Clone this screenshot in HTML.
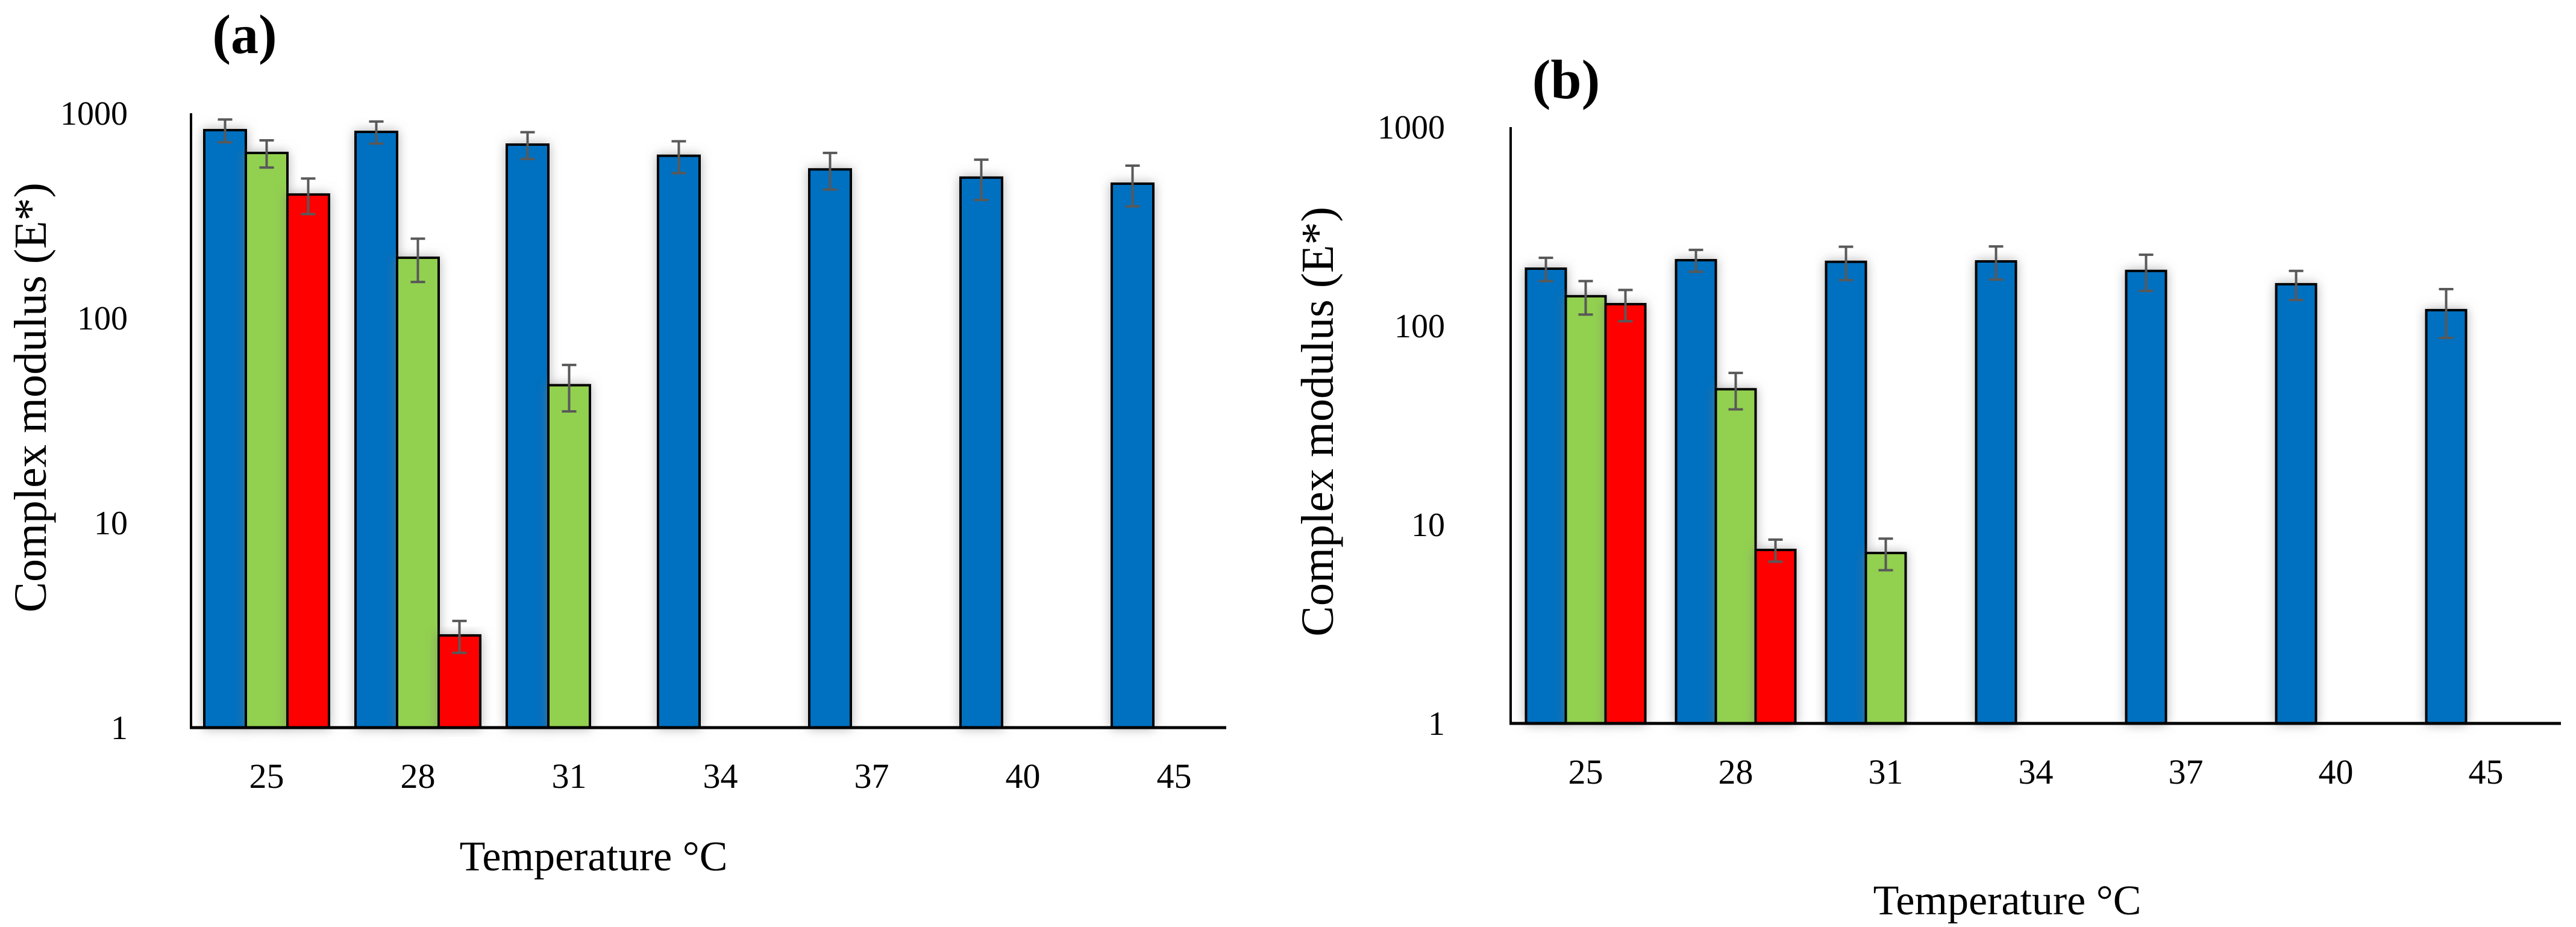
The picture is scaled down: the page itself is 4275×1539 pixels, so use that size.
<!DOCTYPE html>
<html><head><meta charset="utf-8"><style>
html,body{margin:0;padding:0;background:#fff}
svg{display:block}
text{font-family:"Liberation Serif",serif;fill:#000}
</style></head><body>
<svg id="fig" width="4275" height="1539" viewBox="0 0 4275 1539" xmlns="http://www.w3.org/2000/svg">
<defs><filter id="sh" x="-30%" y="-10%" width="160%" height="120%"><feDropShadow dx="0" dy="0" stdDeviation="9" flood-color="#777" flood-opacity="0.55"/></filter></defs>
<g id="chartA"></g>
<g id="chartB"></g>
</svg>
<script>
const categories = ["25","28","31","34","37","40","45"];
const tickLabels = [1,10,100,1000];
const seriesColors = ["#0070C0","#92D050","#FF0000"];
// chart (a)
const aBlue = [827,811,703,620,532,485,453];
const aBlueErr = [105,100,105,110,108,108,102];
const aGreen = [640,197,47,null,null,null,null];
const aGreenErr = [97,47,12,null,null,null,null];
const aRed = [401,2.82,null,null,null,null,null];
const aRedErr = [79,0.5,null,null,null,null,null];
// chart (b)
const bBlue = [194,214,210,211,189,162,120];
const bBlueErr = [26,27,40,40,39,27,33];
const bGreen = [141,48,7.2,null,null,null,null];
const bGreenErr = [27,10,1.3,null,null,null,null];
const bRed = [128.6,7.46,null,null,null,null,null];
const bRedErr = [23,0.95,null,null,null,null,null];

const NS="http://www.w3.org/2000/svg";
function mk(parent,tag,attrs,txt){const e=document.createElementNS(NS,tag);for(const k in attrs)e.setAttribute(k,attrs[k]);if(txt!==undefined)e.textContent=txt;parent.appendChild(e);return e;}

function drawChart(g,cfg,series,errs,id){
  const yScale=v=>cfg.base-cfg.dec*Math.log10(v);
  const xCat=i=>cfg.ax+cfg.cw*i;
  const gap=(cfg.cw-3*cfg.bw)/2;
  series.forEach((s,si)=>{
    s.forEach((v,i)=>{
      if(v==null)return;
      const x=xCat(i)+gap+si*cfg.bw, y=yScale(v);
      const r=mk(g,'rect',{x:x,y:y,width:cfg.bw,height:cfg.base-y,fill:seriesColors[si],stroke:'#000','stroke-width':4,filter:'url(#sh)'});
      
      
    });
  });
  series.forEach((s,si)=>{
    s.forEach((v,i)=>{
      if(v==null)return;
      const e=errs[si][i];
      const cx=xCat(i)+gap+si*cfg.bw+cfg.bw/2;
      const y1=yScale(v+e), y2=yScale(Math.max(v-e,0.001));
      const eg=mk(g,'g',{stroke:'#595959','stroke-width':4});
      
      
      mk(eg,'line',{x1:cx,x2:cx,y1:y1,y2:y2});
      mk(eg,'line',{x1:cx-12,x2:cx+12,y1:y1,y2:y1});
      mk(eg,'line',{x1:cx-12,x2:cx+12,y1:y2,y2:y2});
    });
  });
  const ya=mk(g,'line',{x1:cfg.ax,x2:cfg.ax,y1:yScale(1000),y2:cfg.base+2,stroke:'#000','stroke-width':4});
  
  const xa=mk(g,'line',{x1:cfg.ax-2,x2:cfg.xend,y1:cfg.base,y2:cfg.base,stroke:'#000','stroke-width':5});
  
  tickLabels.forEach(t=>{
    const tl=mk(g,'text',{x:cfg.tx,y:yScale(t)+19,'text-anchor':'end','font-size':56},String(t));
    
  });
  categories.forEach((c,i)=>{
    const tl=mk(g,'text',{x:xCat(i)+cfg.cw/2,y:cfg.base+100,'text-anchor':'middle','font-size':58},c);
    
  });
  const yt=mk(g,'text',{x:0,y:0,'text-anchor':'middle','font-size':76,transform:'translate('+cfg.ytx+','+cfg.yty+') rotate(-90)'},'Complex modulus (E*)');
  
  const xt=mk(g,'text',{x:cfg.xtx,y:cfg.xty,'text-anchor':'middle','font-size':70},'Temperature \u00B0C');
  
  const pl=mk(g,'text',{x:cfg.px,y:cfg.py,'text-anchor':'middle','font-size':92,'font-weight':'bold'},'('+id+')');
  
}
drawChart(document.getElementById('chartA'),{base:1208,dec:340,ax:317,cw:251,bw:69,xend:2035,tx:212,ytx:76,yty:660,xtx:985,xty:1445,px:406,py:88},
  [aBlue,aGreen,aRed],[aBlueErr,aGreenErr,aRedErr],'a');
drawChart(document.getElementById('chartB'),{base:1201,dec:330,ax:2507,cw:249,bw:66,xend:4250,tx:2398,ytx:2212,yty:700,xtx:3331,xty:1518,px:2599,py:163},
  [bBlue,bGreen,bRed],[bBlueErr,bGreenErr,bRedErr],'b');
</script>
</body></html>
